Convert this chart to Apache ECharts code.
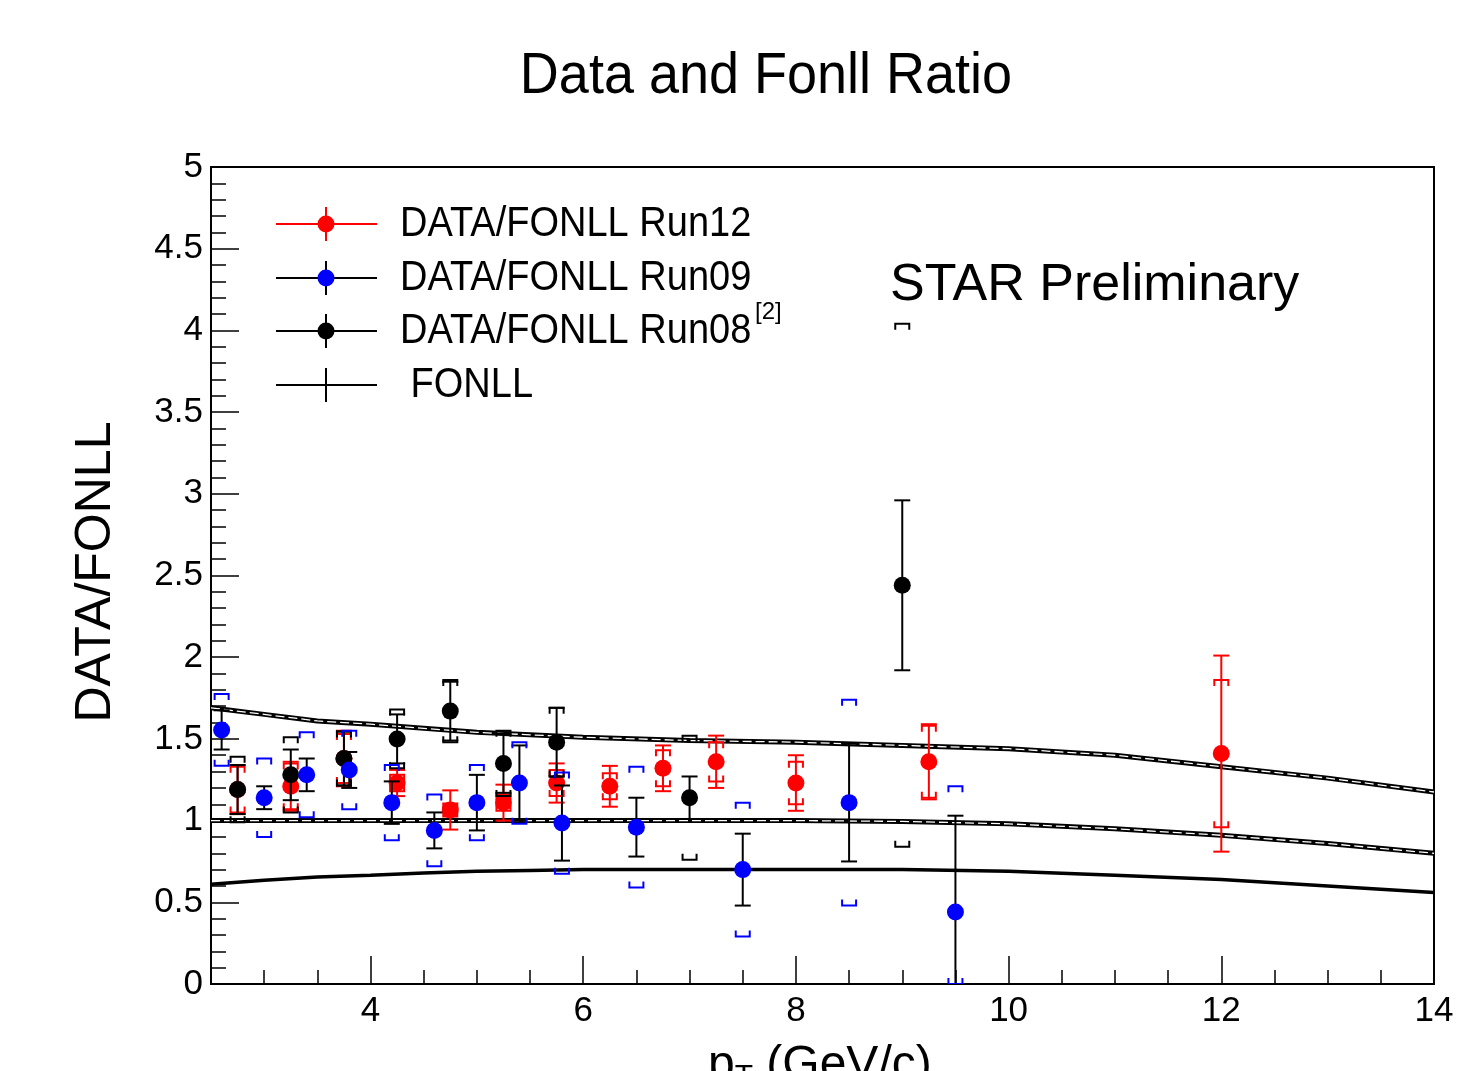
<!DOCTYPE html>
<html>
<head>
<meta charset="utf-8">
<script src="https://cdn.jsdelivr.net/npm/echarts@6/dist/echarts.min.js"></script>
<style>
html,body{margin:0;padding:0;background:#fff;}
#chart{width:1472px;height:1071px;}
</style>
</head>
<body>
<div id="chart"></div>
<script>
// ---------- data ----------
const fonllX       = [2.5, 3, 3.5, 4, 4.5, 5, 5.5, 6, 7, 8, 9, 10, 11, 12, 13, 14];
const fonllUpper   = [1.69, 1.65, 1.61, 1.59, 1.565, 1.54, 1.525, 1.51, 1.49, 1.48, 1.46, 1.44, 1.40, 1.33, 1.26, 1.175];
const fonllCentral = [1.0, 1.0, 1.0, 1.0, 1.0, 1.0, 1.0, 1.0, 1.0, 1.0, 0.995, 0.98, 0.95, 0.91, 0.86, 0.80];
const fonllLower   = [0.61, 0.635, 0.655, 0.665, 0.68, 0.69, 0.695, 0.70, 0.70, 0.70, 0.70, 0.69, 0.665, 0.64, 0.60, 0.56];

const run12X    = [2.75, 3.25, 3.75, 4.25, 4.75, 5.25, 5.75, 6.25, 6.75, 7.25, 8.0, 9.25, 12.0];
const run12Y    = [1.19, 1.21, 1.38, 1.23, 1.065, 1.11, 1.23, 1.21, 1.32, 1.36, 1.23, 1.36, 1.41];
const run12Stat = [0.15, 0.15, 0.17, 0.08, 0.12, 0.11, 0.12, 0.125, 0.14, 0.16, 0.17, 0.23, 0.60];
const run12Sys  = [0.14, 0.14, 0.15, 0.05, 0.04, 0.05, 0.08, 0.08, 0.11, 0.12, 0.13, 0.22, 0.45];

const run09X    = [2.6, 3.0, 3.4, 3.8, 4.2, 4.6, 5.0, 5.4, 5.8, 6.5, 7.5, 8.5, 9.5];
const run09Y    = [1.555, 1.14, 1.28, 1.31, 1.11, 0.94, 1.11, 1.23, 0.985, 0.96, 0.70, 1.11, 0.44];
const run09Stat = [0.12, 0.07, 0.10, 0.11, 0.13, 0.11, 0.17, 0.23, 0.23, 0.18, 0.22, 0.36, 0.59];
const run09Sys  = [0.22, 0.24, 0.26, 0.24, 0.23, 0.22, 0.23, 0.25, 0.31, 0.37, 0.41, 0.63, 0.77];

const run08X    = [2.75, 3.25, 3.75, 4.25, 4.75, 5.25, 5.75, 7.0, 9.0];
const run08Y    = [1.19, 1.28, 1.38, 1.50, 1.67, 1.35, 1.48, 1.14, 2.44];
const run08Stat = [0.15, 0.155, 0.165, 0.15, 0.18, 0.18, 0.21, 0.13, 0.52];
const run08Sys  = [0.20, 0.23, 0.165, 0.18, 0.19, 0.20, 0.21, 0.38, 1.60];

const xMajorTicks = [4, 6, 8, 10, 12, 14];
const xMinorTicks = [3, 3.5, 4.5, 5, 5.5, 6.5, 7, 7.5, 8.5, 9, 9.5, 10.5, 11, 11.5, 12.5, 13, 13.5];
const xTickLabels = [4, 6, 8, 10, 12, 14];

const legendLabels = ['DATA/FONLL Run12', 'DATA/FONLL Run09', 'DATA/FONLL Run08', ' FONLL'];

// ---------- chart ----------
const FONT = 'Liberation Sans, Arial, Helvetica, sans-serif';
const X_MIN = 2.5, X_MAX = 14, Y_MIN = 0, Y_MAX = 5;
const RED = '#ff0000', BLUE = '#0000ff', BLACK = '#000000';

function pairs(xs, ys) { return xs.map((x, i) => [x, ys[i]]); }

function errSeries(name, xs, ys, stat, sys, statColor, sysColor, z) {
  return {
    name: name, type: 'custom', z: z, clip: true,
    xAxisIndex: 0, yAxisIndex: 0,
    data: xs.map((x, i) => [x, ys[i], stat[i], sys[i]]),
    renderItem: function (params, api) {
      const x = api.value(0), y = api.value(1), s = api.value(2), sy = api.value(3);
      const hiS = Math.min(y + s, Y_MAX), loS = Math.max(y - s, Y_MIN);
      const hiY = Math.min(y + sy, Y_MAX), loY = Math.max(y - sy, Y_MIN);
      const pTop = api.coord([x, hiS]), pBot = api.coord([x, loS]);
      const sTop = api.coord([x, hiY]), sBot = api.coord([x, loY]);
      const cx = pTop[0];
      const sl = { stroke: statColor, lineWidth: 2, fill: null };
      const bl = { stroke: sysColor, lineWidth: 2, fill: null };
      const ch = [];
      ch.push({ type: 'line', shape: { x1: cx, y1: pTop[1], x2: cx, y2: pBot[1] }, style: sl });
      if (y + s <= Y_MAX) ch.push({ type: 'line', shape: { x1: cx - 8, y1: pTop[1], x2: cx + 8, y2: pTop[1] }, style: sl });
      if (y - s >= Y_MIN) ch.push({ type: 'line', shape: { x1: cx - 8, y1: pBot[1], x2: cx + 8, y2: pBot[1] }, style: sl });
      ch.push({ type: 'polyline', shape: { points: [[cx - 7, sTop[1] + 6], [cx - 7, sTop[1]], [cx + 7, sTop[1]], [cx + 7, sTop[1] + 6]] }, style: bl });
      ch.push({ type: 'polyline', shape: { points: [[cx - 7, sBot[1] - 6], [cx - 7, sBot[1]], [cx + 7, sBot[1]], [cx + 7, sBot[1] - 6]] }, style: bl });
      return { type: 'group', children: ch };
    }
  };
}

function markerSeries(name, xs, ys, color, z) {
  return {
    name: name, type: 'scatter', z: z, symbol: 'circle', symbolSize: 17,
    xAxisIndex: 0, yAxisIndex: 0,
    itemStyle: { color: color, opacity: 1 },
    data: pairs(xs, ys)
  };
}

function curveSeries(ys, withDash) {
  const out = [{
    type: 'line', z: 2, symbol: 'none', xAxisIndex: 0, yAxisIndex: 0,
    lineStyle: { color: BLACK, width: withDash ? 5 : 3.5 },
    data: pairs(fonllX, ys)
  }];
  if (withDash) out.push({
    type: 'line', z: 2.5, symbol: 'none', xAxisIndex: 0, yAxisIndex: 0,
    lineStyle: { color: '#ffffff', width: 1.3, type: [9, 4] },
    data: pairs(fonllX, ys)
  });
  return out;
}

// legend graphics
const legendRows = [224, 278, 331, 385];
const legendColors = [RED, BLUE, BLACK, null];
const legendLineColors = [RED, BLACK, BLACK, BLACK];
const graphics = [];
legendRows.forEach((ly, i) => {
  graphics.push({ type: 'line', shape: { x1: 276, y1: ly, x2: 377, y2: ly }, style: { stroke: legendLineColors[i], lineWidth: 2 }, z: 10 });
  graphics.push({ type: 'line', shape: { x1: 326, y1: ly - 17, x2: 326, y2: ly + 17 }, style: { stroke: legendLineColors[i], lineWidth: 2 }, z: 10 });
  if (legendColors[i]) graphics.push({ type: 'circle', shape: { cx: 326, cy: ly, r: 8.5 }, style: { fill: legendColors[i] }, z: 11 });
  graphics.push({ type: 'text', x: 400, y: ly, scaleY: 1.1, style: { text: legendLabels[i], font: '38px ' + FONT, fill: BLACK, textAlign: 'left', textVerticalAlign: 'middle' }, z: 10 });
});
graphics.push({ type: 'text', x: 755, y: 312, style: { text: '[2]', font: '24px ' + FONT, fill: BLACK, textAlign: 'left', textVerticalAlign: 'middle' }, z: 10 });
graphics.push({ type: 'text', x: 766, y: 77, scaleY: 1.05, style: { text: 'Data and Fonll Ratio', font: '54px ' + FONT, fill: BLACK, textAlign: 'center', textVerticalAlign: 'middle' } });
graphics.push({ type: 'text', x: 890, y: 286, style: { text: 'STAR Preliminary', font: '52px ' + FONT, fill: BLACK, textAlign: 'left', textVerticalAlign: 'middle' }, z: 10 });
graphics.push({ type: 'text', x: 96, y: 572, rotation: Math.PI / 2, style: { text: 'DATA/FONLL', font: '50px ' + FONT, fill: BLACK, textAlign: 'center', textVerticalAlign: 'middle' } });
graphics.push({ type: 'text', x: 708, y: 1066, style: {
  text: '{a|p}{b|T}{a| (GeV/c)}', fill: BLACK, textAlign: 'left', textVerticalAlign: 'middle',
  rich: { a: { fontSize: 48, fontFamily: FONT, color: BLACK }, b: { fontSize: 30, fontFamily: FONT, color: BLACK, padding: [22, 0, 0, 0] } }
} });

const option = {
  animation: false,
  backgroundColor: '#ffffff',
  grid: { left: 211, top: 167, width: 1223, height: 817, show: true, borderColor: BLACK, borderWidth: 2, backgroundColor: 'transparent' },
  xAxis: [{
    type: 'value', min: X_MIN, max: X_MAX, position: 'bottom',
    axisLine: { show: true, onZero: false, lineStyle: { color: BLACK, width: 2 } },
    axisTick: { show: true, inside: true, length: 28, customValues: xMajorTicks, lineStyle: { color: BLACK, width: 1.5 } },
    axisLabel: { show: true, customValues: xTickLabels, margin: 10, fontSize: 35, fontFamily: FONT, color: BLACK },
    splitLine: { show: false }
  }, {
    type: 'value', min: X_MIN, max: X_MAX, position: 'bottom', offset: 0,
    axisLine: { show: false, onZero: false },
    axisTick: { show: true, inside: true, length: 14, customValues: xMinorTicks, lineStyle: { color: BLACK, width: 1.5 } },
    axisLabel: { show: false },
    splitLine: { show: false }
  }],
  yAxis: [{
    type: 'value', min: Y_MIN, max: Y_MAX, interval: 0.5,
    axisLine: { show: true, onZero: false, lineStyle: { color: BLACK, width: 2 } },
    axisTick: { show: true, inside: true, length: 28, lineStyle: { color: BLACK, width: 1.5 } },
    minorTick: { show: true, splitNumber: 5, length: 15, lineStyle: { color: BLACK, width: 1.5 } },
    axisLabel: { margin: 8, fontSize: 35, fontFamily: FONT, color: BLACK },
    splitLine: { show: false }, minorSplitLine: { show: false }
  }],
  graphic: graphics,
  series: [].concat(
    curveSeries(fonllUpper, true),
    curveSeries(fonllCentral, true),
    curveSeries(fonllLower, false),
    [errSeries('Run12 err', run12X, run12Y, run12Stat, run12Sys, RED, RED, 3),
     markerSeries('DATA/FONLL Run12', run12X, run12Y, RED, 4),
     errSeries('Run08 err', run08X, run08Y, run08Stat, run08Sys, BLACK, BLACK, 5),
     markerSeries('DATA/FONLL Run08', run08X, run08Y, BLACK, 6),
     errSeries('Run09 err', run09X, run09Y, run09Stat, run09Sys, BLACK, BLUE, 7),
     markerSeries('DATA/FONLL Run09', run09X, run09Y, BLUE, 8)]
  )
};

const chart = echarts.init(document.getElementById('chart'), null, { renderer: 'canvas' });
chart.setOption(option);
</script>
</body>
</html>
